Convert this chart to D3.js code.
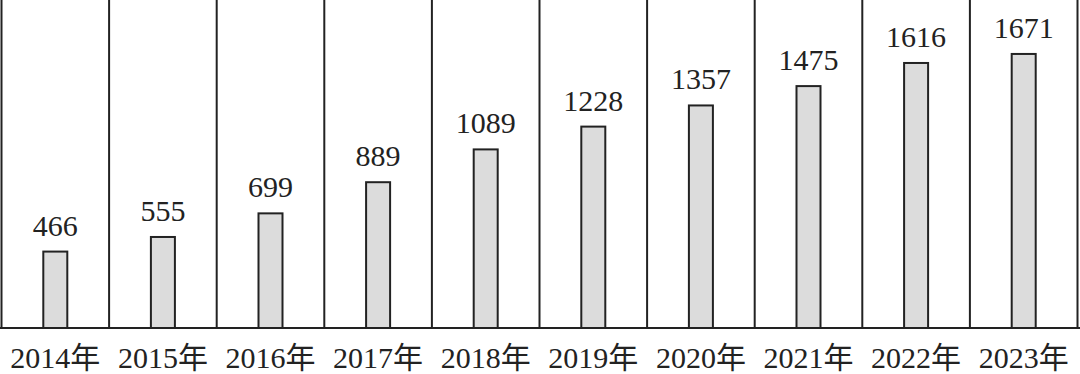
<!DOCTYPE html>
<html>
<head>
<meta charset="utf-8">
<script src="https://cdn.jsdelivr.net/npm/d3@7"></script>
<style>
body { margin: 0; background: #fff; }
svg { display: block; }
text { font-family: "Liberation Serif", "Noto Sans CJK SC", serif; fill: #222; }
</style>
</head>
<body>
<script>
var years = ["2014年", "2015年", "2016年", "2017年", "2018年", "2019年", "2020年", "2021年", "2022年", "2023年"];
var values = [466, 555, 699, 889, 1089, 1228, 1357, 1475, 1616, 1671];

var width = 1080, height = 374;
var baseY = 328;

var svg = d3.select("body").append("svg")
    .attr("width", width).attr("height", height);

var x = d3.scaleBand().domain(years).range([1.5, 1077.5]).padding(0);
var y = d3.scaleLinear().domain([0, 2000]).range([baseY, 0]);
var barW = 24;

// separators between categories
var edges = years.map(function(d) { return x(d); }).concat([x.range()[1]]);
svg.selectAll(".sep").data(edges).enter().append("line")
    .attr("class", "sep")
    .attr("x1", function(d) { return d; }).attr("x2", function(d) { return d; })
    .attr("y1", 0).attr("y2", baseY)
    .attr("stroke", "#222").attr("stroke-width", 2);

// baseline
svg.append("line")
    .attr("x1", 0).attr("x2", width)
    .attr("y1", baseY).attr("y2", baseY)
    .attr("stroke", "#222").attr("stroke-width", 2);

var g = svg.selectAll(".bar").data(values).enter().append("g").attr("class", "bar");

g.append("rect")
    .attr("x", function(d, i) { return x(years[i]) + x.bandwidth() / 2 - barW / 2; })
    .attr("y", function(d) { return y(d); })
    .attr("width", barW)
    .attr("height", function(d) { return baseY - y(d); })
    .attr("fill", "#dcdcdc")
    .attr("stroke", "#222").attr("stroke-width", 2);

g.append("text")
    .text(function(d) { return d; })
    .attr("x", function(d, i) { return x(years[i]) + x.bandwidth() / 2; })
    .attr("y", function(d) { return y(d) - 16; })
    .attr("text-anchor", "middle")
    .style("font-size", "30px");

svg.selectAll(".xl").data(years).enter().append("text")
    .attr("class", "xl")
    .text(function(d) { return d; })
    .attr("x", function(d) { return x(d) + x.bandwidth() / 2; })
    .attr("y", 368)
    .attr("text-anchor", "middle")
    .style("font-size", "30px");
</script>
</body>
</html>
